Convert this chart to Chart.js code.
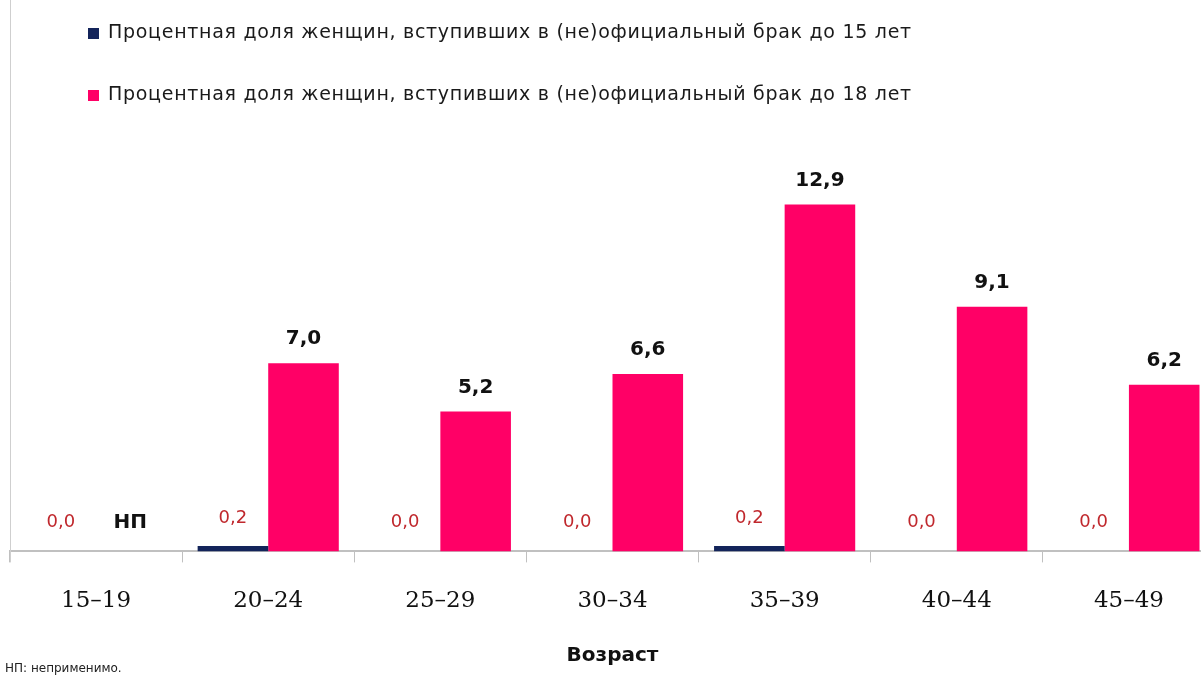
<!DOCTYPE html>
<html>
<head>
<meta charset="utf-8">
<script src="https://cdn.jsdelivr.net/npm/chart.js@4.4.1/dist/chart.umd.min.js"></script>
<style>
html,body{margin:0;padding:0;background:#fff;overflow:hidden;}
#wrap{width:1220px;height:679px;position:relative;}
</style>
</head>
<body>
<div id="wrap"><canvas id="c"></canvas></div>
<script>
const categories = ['15–19','20–24','25–29','30–34','35–39','40–44','45–49'];
const under15 = [0.0, 0.2, 0.0, 0.0, 0.2, 0.0, 0.0];
const under18 = [null, 7.0, 5.2, 6.6, 12.9, 9.1, 6.2];
const seriesNames = [
  'Процентная доля женщин, вступивших в (не)официальный брак до 15 лет',
  'Процентная доля женщин, вступивших в (не)официальный брак до 18 лет'
];
const axisTitle = 'Возраст';
const naLabel = 'НП';
const footnote = 'НП: неприменимо.';

const BLUE = '#13245a';
const PINK = '#ff0066';
const SANS = '"DejaVu Sans", Verdana, sans-serif';

function fmt(v){ return v.toFixed(1).replace('.', ','); }

const overlay = {
  id: 'overlay',
  afterDatasetsDraw(chart){
    const ctx = chart.ctx;
    const yScale = chart.scales.y;
    const base = yScale.getPixelForValue(0);
    ctx.save();
    // frame line on the left
    ctx.strokeStyle = '#cfcfcf';
    ctx.lineWidth = 1;
    ctx.beginPath();
    ctx.moveTo(10.5, 0);
    ctx.lineTo(10.5, base + 11);
    ctx.stroke();
    // legend
    ctx.textBaseline = 'middle';
    ctx.textAlign = 'left';
    ctx.font = '19px ' + SANS;
    const legY = [33, 95];
    const legC = [BLUE, PINK];
    for (let i = 0; i < 2; i++) {
      ctx.fillStyle = legC[i];
      ctx.fillRect(88, legY[i] - 5, 11, 11);
      ctx.fillStyle = '#1a1a1a';
      ctx.letterSpacing = '0px';
      const w = ctx.measureText(seriesNames[i]).width;
      const sp = (804 - w) / seriesNames[i].length;
      ctx.letterSpacing = sp.toFixed(2) + 'px';
      ctx.fillText(seriesNames[i], 108, legY[i]);
    }
    ctx.letterSpacing = '0px';
    // data labels
    ctx.textAlign = 'center';
    const m0 = chart.getDatasetMeta(0);
    const m1 = chart.getDatasetMeta(1);
    ctx.font = '18px ' + SANS;
    ctx.fillStyle = '#c0282d';
    m0.data.forEach((bar, i) => {
      ctx.fillText(fmt(under15[i]), bar.x, Math.min(bar.y, base - 1) - 28);
    });
    ctx.font = 'bold 20px ' + SANS;
    ctx.fillStyle = '#111';
    m1.data.forEach((bar, i) => {
      const v = under18[i];
      if (v === null) {
        ctx.fillText(naLabel, bar.x - 1, base - 29);
      } else {
        ctx.fillText(fmt(v), bar.x, bar.y - 24);
      }
    });
    // footnote
    ctx.textAlign = 'left';
    ctx.font = '12px ' + SANS;
    ctx.fillStyle = '#222';
    ctx.fillText(footnote, 5, 669);
    ctx.restore();
  }
};

new Chart(document.getElementById('c'), {
  type: 'bar',
  data: {
    labels: categories,
    datasets: [
      { label: seriesNames[0], data: under15, backgroundColor: BLUE, categoryPercentage: 0.82, barPercentage: 1.0 },
      { label: seriesNames[1], data: under18, backgroundColor: PINK, categoryPercentage: 0.82, barPercentage: 1.0 }
    ]
  },
  options: {
    responsive: true,
    maintainAspectRatio: false,
    devicePixelRatio: 1,
    animation: false,
    layout: { padding: { left: 10, right: 5, top: 148, bottom: 11 } },
    plugins: { legend: { display: false }, tooltip: { enabled: false } },
    scales: {
      x: {
        grid: { drawOnChartArea: false, drawTicks: true, tickLength: 11, color: '#c0c0c0', offset: true },
        border: { color: '#c0c0c0', width: 2 },
        ticks: { color: '#111', font: { family: '"DejaVu Serif", serif', size: 23 }, padding: 25 },
        title: { display: true, text: axisTitle, color: '#111', font: { family: SANS, size: 20, weight: 'bold' }, padding: { top: 4, bottom: 0 } }
      },
      y: {
        display: false,
        min: 0,
        max: 15
      }
    }
  },
  plugins: [overlay]
});
</script>
</body>
</html>
